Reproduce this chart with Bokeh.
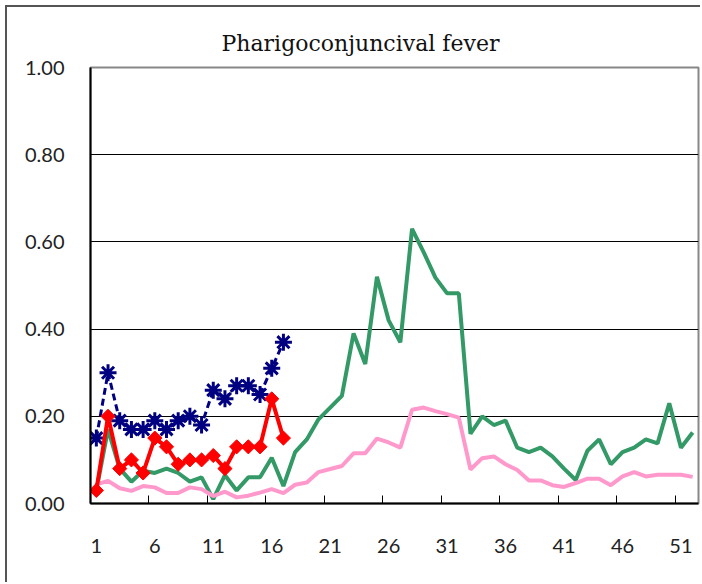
from bokeh.plotting import figure
from bokeh.embed import file_html
from bokeh.resources import INLINE
from bokeh.models import FixedTicker, PrintfTickFormatter
import math

weeks = list(range(1, 53))
prev_year = [0.03, 0.17, 0.08, 0.05, 0.075, 0.07, 0.08, 0.07, 0.05, 0.06,
             0.01, 0.065, 0.03, 0.06, 0.06, 0.105, 0.04, 0.118, 0.147, 0.193,
             0.22, 0.247, 0.39, 0.32, 0.52, 0.42, 0.37, 0.63, 0.576, 0.518,
             0.482, 0.482, 0.16, 0.20, 0.18, 0.19, 0.128, 0.118, 0.128, 0.108,
             0.08, 0.054, 0.121, 0.147, 0.09, 0.118, 0.128, 0.147, 0.138, 0.23,
             0.128, 0.163]
average = [0.044, 0.052, 0.035, 0.029, 0.04, 0.037, 0.024, 0.024, 0.037, 0.033,
           0.017, 0.027, 0.014, 0.018, 0.025, 0.033, 0.024, 0.043, 0.048, 0.072,
           0.079, 0.086, 0.115, 0.115, 0.149, 0.14, 0.128, 0.215, 0.22, 0.212,
           0.205, 0.197, 0.078, 0.104, 0.108, 0.09, 0.077, 0.053, 0.053, 0.042,
           0.038, 0.047, 0.057, 0.057, 0.042, 0.062, 0.072, 0.062, 0.066, 0.066,
           0.066, 0.061]
cur_weeks = list(range(1, 18))
current = [0.03, 0.20, 0.08, 0.10, 0.07, 0.15, 0.13, 0.09, 0.10, 0.10,
           0.11, 0.08, 0.13, 0.13, 0.13, 0.24, 0.15]
other = [0.15, 0.30, 0.19, 0.17, 0.17, 0.19, 0.17, 0.19, 0.20, 0.18,
         0.26, 0.24, 0.27, 0.27, 0.25, 0.31, 0.37]
x_tick_weeks = [1, 6, 11, 16, 21, 26, 31, 36, 41, 46, 51]
y_ticks = [0.0, 0.2, 0.4, 0.6, 0.8, 1.0]

p = figure(width=700, height=582, output_backend="svg", toolbar_location=None,
           x_range=(0.5, 52.5), y_range=(0, 1),
           min_border_left=90, min_border_right=2, min_border_top=67, min_border_bottom=79,
           title="Pharigoconjuncival fever")

# outer chart-area border (left and top edges visible in the window)
p.border_fill_color = None
p.styles = {
    "background": "linear-gradient(#555555, #555555) 5px 5px / 2px 100% no-repeat, "
                  "linear-gradient(#555555, #555555) 5px 5px / 100% 2px no-repeat, white"
}

p.title.text_font = "DejaVu Serif"
p.title.text_font_size = "22px"
p.title.text_font_style = "normal"
p.title.text_color = "#111111"
p.title.align = "left"
p.title.offset = 131
p.title.standoff = 23

p.outline_line_color = "#888888"
p.outline_line_width = 2
p.background_fill_color = "white"

# x axis
p.xaxis.ticker = FixedTicker(ticks=x_tick_weeks,
                             minor_ticks=[0.5 + 5 * k for k in range(11)])
p.xaxis.major_tick_line_color = None
p.xaxis.minor_tick_in = 8
p.xaxis.minor_tick_out = 0
p.xaxis.minor_tick_line_color = "black"
p.xaxis.minor_tick_line_width = 1
p.xaxis.axis_line_color = "black"
p.xaxis.axis_line_width = 2
p.xaxis.major_label_standoff = 29
p.xaxis.major_label_text_font = "Lato"
p.xaxis.major_label_text_font_size = "20px"
p.xaxis.major_label_text_color = "#222222"

# y axis
p.yaxis.ticker = FixedTicker(ticks=y_ticks)
p.yaxis.formatter = PrintfTickFormatter(format="%.2f")
p.yaxis.major_tick_line_color = None
p.yaxis.minor_tick_line_color = None
p.yaxis.axis_line_color = "black"
p.yaxis.axis_line_width = 2
p.yaxis.major_label_standoff = 20
p.yaxis.major_label_text_font = "Lato"
p.yaxis.major_label_text_font_size = "20px"
p.yaxis.major_label_text_color = "#222222"

p.xgrid.grid_line_color = None
p.ygrid.ticker = FixedTicker(ticks=[0.2, 0.4, 0.6, 0.8])
p.ygrid.grid_line_color = "black"
p.ygrid.grid_line_width = 1

p.line(weeks, prev_year, line_color="#339966", line_width=4)
p.line(weeks, average, line_color="#FF99CC", line_width=4)
p.line(cur_weeks, other, line_color="#000080", line_width=3, line_dash="7 4")
p.scatter(cur_weeks, other, marker="asterisk", size=17, line_color="#000080", line_width=3)
p.line(cur_weeks, current, line_color="#FF0000", line_width=4)
p.scatter(cur_weeks, current, marker="square", angle=math.pi / 4, size=10,
          fill_color="#FF0000", line_color="#FF0000", line_width=1)

open("out.html", "w").write(file_html(p, INLINE))
